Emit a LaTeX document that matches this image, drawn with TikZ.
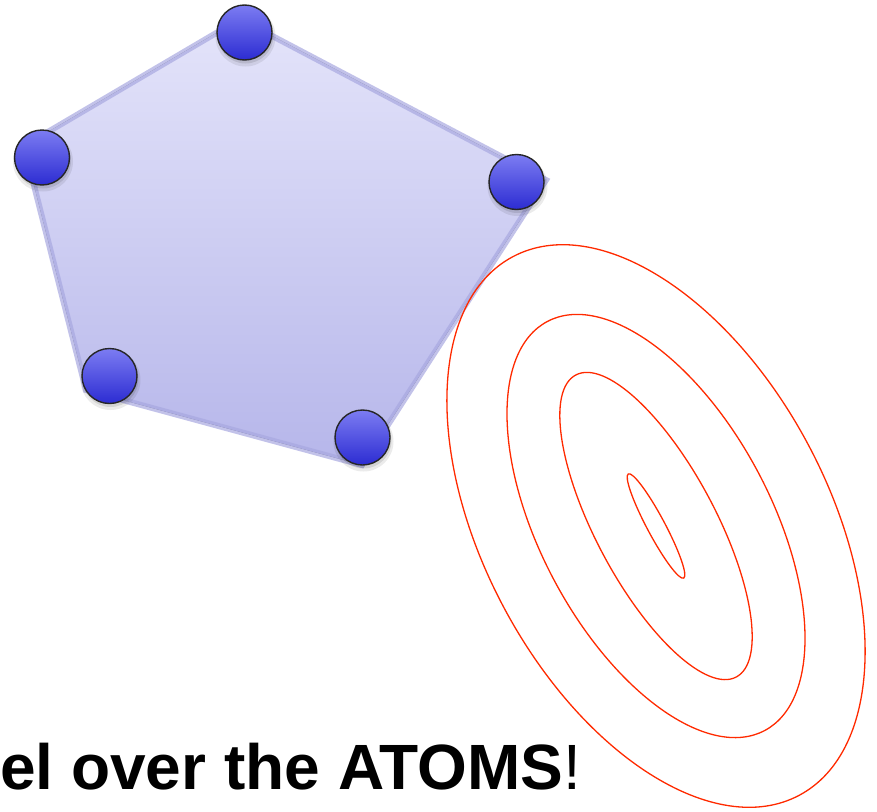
\documentclass[tikz,border=0pt]{standalone}
\usepackage{fontspec}
\setmainfont{Liberation Sans}
\usetikzlibrary{positioning,calc}
\definecolor{atomtop}{HTML}{7C7CF2}
\definecolor{atombot}{HTML}{2C2CD2}
\definecolor{hulltop}{HTML}{E4E4FA}
\definecolor{hullbot}{HTML}{B6B6EA}
\definecolor{hullline}{HTML}{A8A8E0}
\definecolor{levelred}{HTML}{FF2A00}

\begin{document}
\begin{tikzpicture}[x=1pt,y=-1pt,
  atom/.style={circle,draw=black!85,line width=1.4pt,minimum size=55pt,inner sep=0pt,top color=atomtop,bottom color=atombot},
  level/.style={draw=levelred,line width=1.3pt}]
\useasboundingbox (0,0) rectangle (877,811);
% corners of the hull
\coordinate (h1) at (240,19);
\coordinate (h2) at (546,180);
\coordinate (h3) at (362,465);
\coordinate (h4) at (86,390);
\coordinate (h5) at (24,146);
\fill[top color=hulltop,bottom color=hullbot] (h1) -- (h2) -- (h3) -- (h4) -- (h5) -- cycle;
\draw[hullline,opacity=0.7,line width=6pt] (h1) -- (h2) -- (h3) -- (h4) -- (h5) -- cycle;
% level sets
\coordinate (ctr) at (656,526);
\foreach \a/\b in {305/172.6,231.6/115.4,171/60,59/9}
  \draw[level,rotate around={-62:(ctr)}] (ctr) ellipse ({\a pt} and {\b pt});
% atoms
\foreach \n/\x/\y in {a1/244.5/32.5,a2/516.5/182,a3/362.5/437.5,a4/109.5/376,a5/42/157.5}{
  \fill[black,opacity=0.08] (\x+1,\y+4) circle (30pt);
  \fill[black,opacity=0.10] (\x+1,\y+3) circle (28pt);
  \node[atom] (\n) at (\x,\y) {};
}
\node[anchor=base west,inner sep=0pt,font=\bfseries\fontsize{64}{70}\selectfont] (motto) at (0,789) {el over the ATOMS{\mdseries !}};
\end{tikzpicture}
\end{document}
